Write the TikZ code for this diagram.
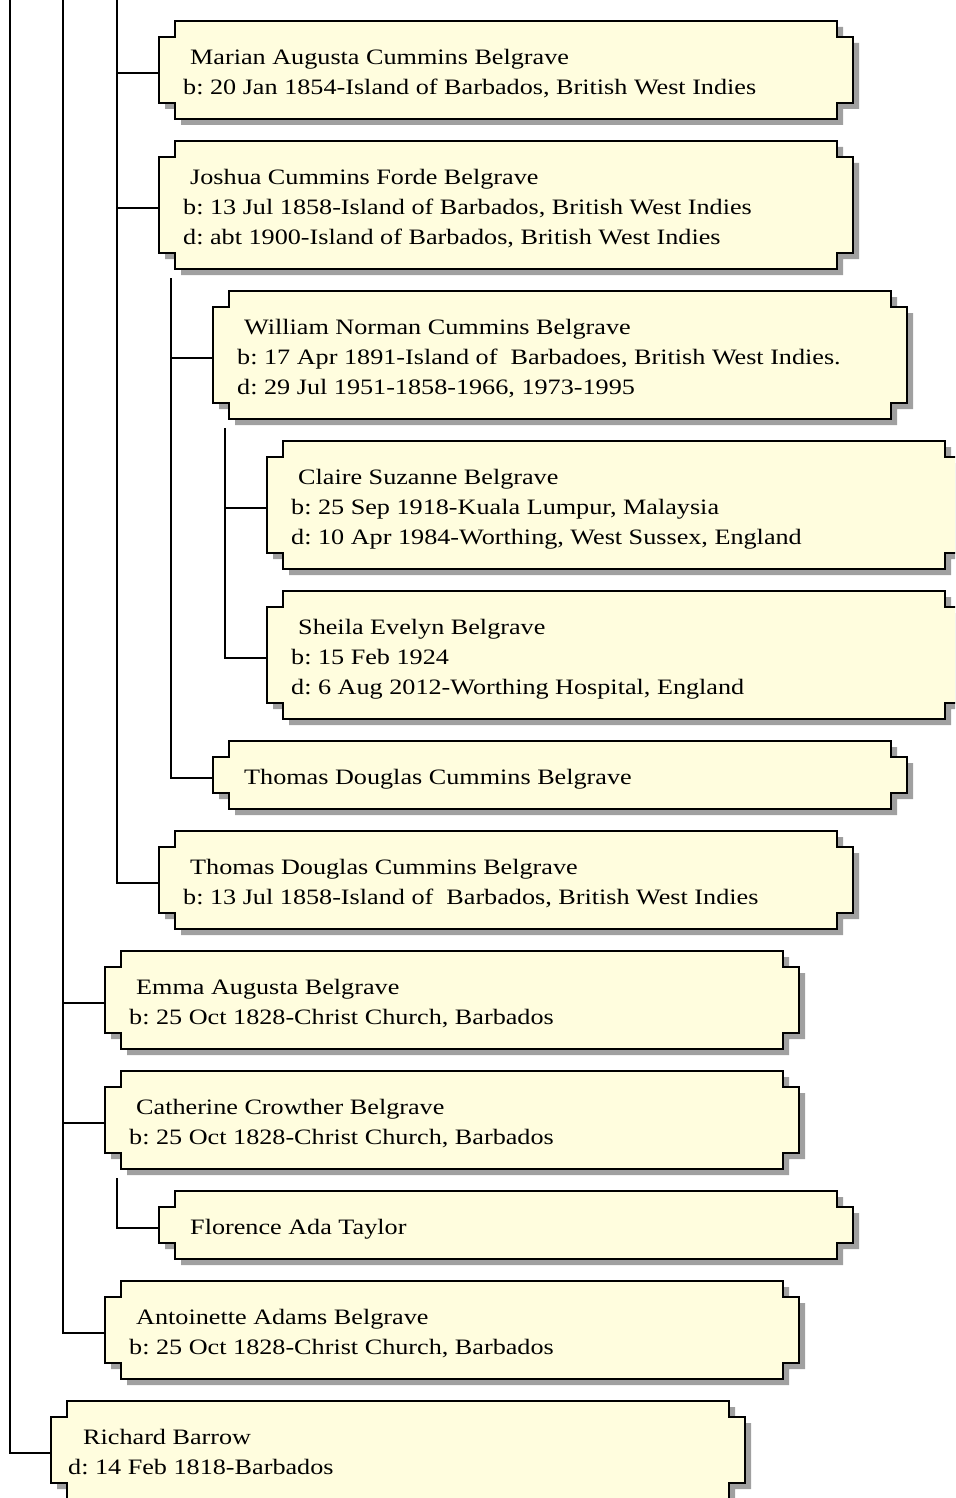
\documentclass[tikz,border=0pt]{standalone}
\usepackage{fontspec}
\setmainfont{Liberation Serif}[FakeStretch=1.19]
\frenchspacing
\definecolor{cardfill}{RGB}{255,253,222}
\definecolor{shadowcol}{RGB}{160,160,160}
\tikzset{
  cardbox/.style={rectangle, anchor=north west, minimum width=694pt, inner sep=0pt, outer sep=0pt},
  cardtext/.style={anchor=north west, inner sep=0pt, align=left, font=\fontsize{22pt}{30pt}\selectfont},
  cardline/.style={draw=black, line width=2pt, fill=cardfill, line join=miter},
  cardshadow/.style={fill=shadowcol},
  link/.style={draw=black, line width=1.5pt},
}
% #1 name, #2 left, #3 top, #4 height, #5 text x offset, #6 first line indent, #7 text
\newcommand\famcard[7]{%
  \begin{scope}[shift={(#2,#3)}]
    \fill[cardshadow, shift={(6,6)}] (16,0) -- (678,0) -- (678,16) -- (694,16) -- (694,#4-16) -- (678,#4-16) -- (678,#4) -- (16,#4) -- (16,#4-16) -- (0,#4-16) -- (0,16) -- (16,16) -- cycle;
    \path[cardline] (16,0) -- (678,0) -- (678,16) -- (694,16) -- (694,#4-16) -- (678,#4-16) -- (678,#4) -- (16,#4) -- (16,#4-16) -- (0,#4-16) -- (0,16) -- (16,16) -- cycle;
    \node[cardbox, minimum height=#4pt] (#1) at (0,0) {};
    \node[cardtext] (#1t) at (#5,23) {\rule{0pt}{20pt}\hspace*{#6pt}#7};
  \end{scope}}
\begin{document}
\begin{tikzpicture}[x=1pt, y=-1pt]
\useasboundingbox (0,0) rectangle (955,1498);
\clip (0,0) rectangle (955,1498);

% vertical line origins
\coordinate (v1) at (10,0);
\coordinate (v2) at (63,0);
\coordinate (v3) at (117,0);
\coordinate (v4) at (171,278);
\coordinate (v5) at (225,428);
\coordinate (v6) at (117,1178);

\famcard{marian}{159}{21}{98}{24}{7}{Marian Augusta Cummins Belgrave\\b: 20 Jan 1854-Island of Barbados, British West Indies}
\famcard{joshua}{159}{141}{128}{24}{7}{Joshua Cummins Forde Belgrave\\b: 13 Jul 1858-Island of Barbados, British West Indies\\d: abt 1900-Island of Barbados, British West Indies}
\famcard{william}{213}{291}{128}{24}{7}{William Norman Cummins Belgrave\\b: 17 Apr 1891-Island of \ Barbadoes, British West Indies.\\d: 29 Jul 1951-1858-1966, 1973-1995}
\famcard{claire}{267}{441}{128}{24}{7}{Claire Suzanne Belgrave\\b: 25 Sep 1918-Kuala Lumpur, Malaysia\\d: 10 Apr 1984-Worthing, West Sussex, England}
\famcard{sheila}{267}{591}{128}{24}{7}{Sheila Evelyn Belgrave\\b: 15 Feb 1924\\d: 6 Aug 2012-Worthing Hospital, England}
\famcard{thomasA}{213}{741}{68}{31}{0}{Thomas Douglas Cummins Belgrave}
\famcard{thomasB}{159}{831}{98}{24}{7}{Thomas Douglas Cummins Belgrave\\b: 13 Jul 1858-Island of \ Barbados, British West Indies}
\famcard{emma}{105}{951}{98}{24}{7}{Emma Augusta Belgrave\\b: 25 Oct 1828-Christ Church, Barbados}
\famcard{catherine}{105}{1071}{98}{24}{7}{Catherine Crowther Belgrave\\b: 25 Oct 1828-Christ Church, Barbados}
\famcard{florence}{159}{1191}{68}{31}{0}{Florence Ada Taylor}
\famcard{antoinette}{105}{1281}{98}{24}{7}{Antoinette Adams Belgrave\\b: 25 Oct 1828-Christ Church, Barbados}
\famcard{richard}{51}{1401}{98}{17}{15}{Richard Barrow\\d: 14 Feb 1818-Barbados}

% connectors
\draw[link] (v1) |- ([yshift=-3pt]richard.west);
\draw[link] (v2) |- ([yshift=-3pt]emma.west);
\draw[link] (v2) |- ([yshift=-3pt]catherine.west);
\draw[link] (v2) |- ([yshift=-3pt]antoinette.west);
\draw[link] (v3) |- ([yshift=-3pt]marian.west);
\draw[link] (v3) |- ([yshift=-3pt]joshua.west);
\draw[link] (v3) |- ([yshift=-3pt]thomasB.west);
\draw[link] (v4) |- ([yshift=-3pt]william.west);
\draw[link] (v4) |- ([yshift=-3pt]thomasA.west);
\draw[link] (v5) |- ([yshift=-3pt]claire.west);
\draw[link] (v5) |- ([yshift=-3pt]sheila.west);
\draw[link] (v6) |- ([yshift=-3pt]florence.west);
\end{tikzpicture}
\end{document}
